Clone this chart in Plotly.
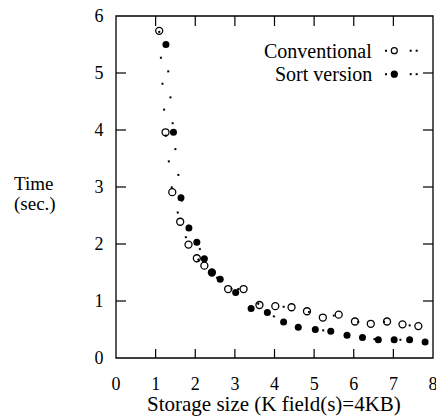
import plotly.graph_objects as go

# Conventional (open circles)
conv_x = [1.09, 1.25, 1.42, 1.62, 1.83, 2.04, 2.23, 2.42, 2.83, 3.22, 3.62, 4.02, 4.43, 4.82,
          5.22, 5.62, 6.03, 6.43, 6.84, 7.23, 7.63, 8.02]
conv_y = [5.74, 3.96, 2.91, 2.39, 1.99, 1.75, 1.62, 1.50, 1.21, 1.21, 0.93, 0.91, 0.89, 0.82,
          0.71, 0.76, 0.64, 0.60, 0.64, 0.59, 0.56, 0.52]
# Sort version (filled circles)
sort_x = [1.26, 1.45, 1.64, 1.84, 2.04, 2.23, 2.42, 2.63, 3.02, 3.41, 3.82, 4.23, 4.60, 5.03,
          5.42, 5.83, 6.22, 6.62, 7.02, 7.41, 7.80, 8.02]
sort_y = [5.50, 3.96, 2.81, 2.28, 2.03, 1.74, 1.50, 1.38, 1.15, 0.87, 0.80, 0.63, 0.54, 0.50,
          0.47, 0.40, 0.36, 0.32, 0.32, 0.32, 0.28, 0.25]

x_ticks = [0, 1, 2, 3, 4, 5, 6, 7, 8]
y_ticks = [0, 1, 2, 3, 4, 5, 6]
X_RANGE = [0, 8]
Y_RANGE = [0, 6]

FONT = "Liberation Serif"
fig = go.Figure()
fig.add_trace(go.Scatter(
    x=conv_x, y=conv_y, mode="lines+markers", name="Conventional",
    line=dict(color="black", width=2, dash="2px,24px"),
    marker=dict(symbol="circle-open", size=7, color="black", line=dict(width=1.3, color="black")),
    cliponaxis=False))
fig.add_trace(go.Scatter(
    x=sort_x, y=sort_y, mode="lines+markers", name="Sort version",
    line=dict(color="black", width=2, dash="2px,24px"),
    marker=dict(symbol="circle", size=7, color="black"),
    cliponaxis=False))

# axes place the tick labels; the (invisible) outside ticks set the label gap
axis_common = dict(showline=False, ticks="outside", tickwidth=1,
                   tickcolor="rgba(0,0,0,0)",
                   showgrid=False, zeroline=False, automargin=False,
                   ticklabeloverflow="allow",
                   tickfont=dict(family=FONT, size=18, color="black"))
fig.update_xaxes(range=X_RANGE, tickvals=x_ticks, ticktext=[str(v) for v in x_ticks],
                 ticklen=9, **axis_common)
fig.update_yaxes(range=Y_RANGE, tickvals=y_ticks, ticktext=[str(v) for v in y_ticks],
                 ticklen=8, **axis_common)

PW, PH = 317, 342  # plot area size in px


def frac_x(v):
    return (v - X_RANGE[0]) / (X_RANGE[1] - X_RANGE[0])


def frac_y(v):
    return (v - Y_RANGE[0]) / (Y_RANGE[1] - Y_RANGE[0])


TICK = dict(color="black", width=1.2)
# frame around the plot area
shapes = [dict(type="rect", xref="paper", yref="paper", x0=0, x1=1, y0=0, y1=1,
               line=dict(color="black", width=1.3), fillcolor="rgba(0,0,0,0)", layer="above")]
# inside tick marks on all four sides, at the tick values
for v in x_ticks[1:-1]:
    fx = frac_x(v)
    for y0, y1 in ((0, 9 / PH), (1 - 10 / PH, 1)):
        shapes.append(dict(type="line", xref="paper", yref="paper", x0=fx, x1=fx,
                           y0=y0, y1=y1, line=TICK, layer="above"))
for v in y_ticks[1:-1]:
    fy = frac_y(v)
    for x0, x1 in ((0, 10 / PW), (1 - 10 / PW, 1)):
        shapes.append(dict(type="line", xref="paper", yref="paper", y0=fy, y1=fy,
                           x0=x0, x1=x1, line=TICK, layer="above"))

annotations = []
# legend (text on the left, symbol on the right as in the reference)
legend_rows = [("Conventional", 0.8985, False), ("Sort version", 0.830, True)]
for label, yy, filled in legend_rows:
    annotations.append(dict(xref="paper", yref="paper", x=0.813, y=yy, text=label,
                            xanchor="right", yanchor="middle", showarrow=False,
                            font=dict(family=FONT, size=20, color="black")))
    cx = (394.3 - 116) / PW
    rx = 3 / PW
    ry = 3 / PH
    shapes.append(dict(type="circle", xref="paper", yref="paper",
                       x0=cx - rx, x1=cx + rx, y0=yy - ry, y1=yy + ry,
                       line=dict(color="black", width=1.2),
                       fillcolor="black" if filled else "rgba(0,0,0,0)"))
    for dx in (386, 410.7, 416.7):
        px = (dx - 116) / PW
        shapes.append(dict(type="rect", xref="paper", yref="paper",
                           x0=px - 1 / PW, x1=px + 1 / PW, y0=yy - 1 / PH, y1=yy + 1 / PH,
                           line=dict(width=0), fillcolor="black"))

for txt, ypx in (("Time", 183), ("(sec.)", 204)):
    annotations.append(dict(xref="paper", yref="paper", x=(12 - 116) / PW, y=(358 - ypx) / PH,
                            text=txt, xanchor="left", yanchor="middle",
                            showarrow=False, font=dict(family=FONT, size=19, color="black")))
annotations.append(dict(xref="paper", yref="paper", x=(273.5 - 116) / PW, y=-(404 - 358) / PH,
                        text="Storage size (K field(s)=4KB)", xanchor="center", yanchor="middle",
                        showarrow=False, font=dict(family=FONT, size=21, color="black")))

# page body has an 8px margin, so the figure is shifted by (8, 8)
fig.update_layout(width=436, height=409, margin=dict(l=108, r=11, t=8, b=59),
                  paper_bgcolor="white", plot_bgcolor="white", showlegend=False,
                  shapes=shapes, annotations=annotations)
fig.write_html("out.html")
